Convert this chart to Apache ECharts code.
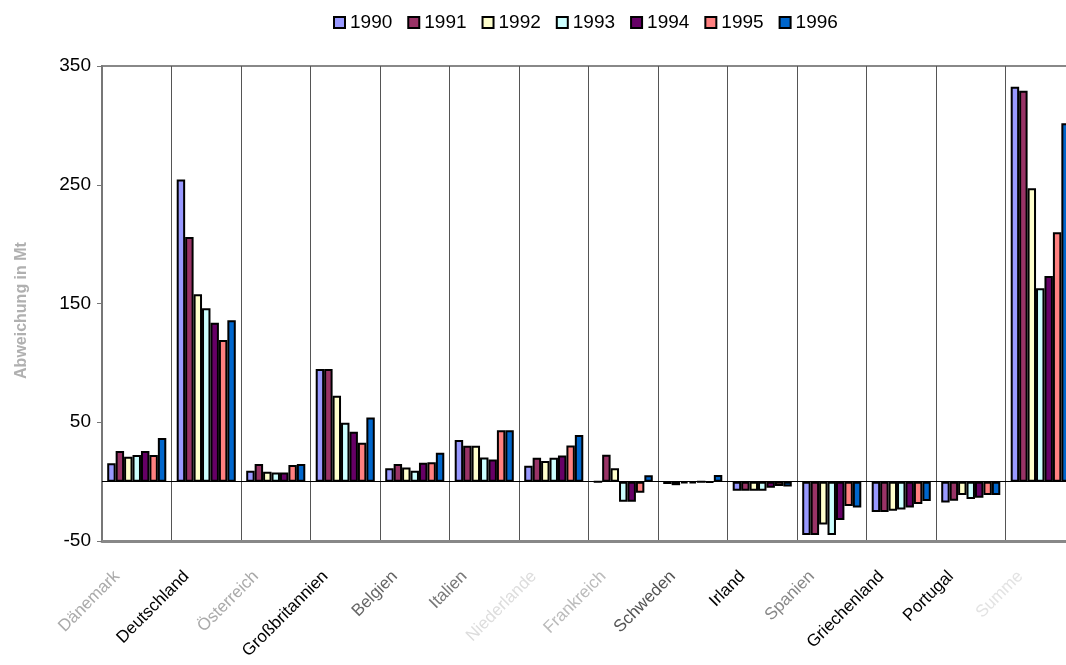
<!DOCTYPE html>
<html>
<head>
<meta charset="utf-8">
<script src="https://cdn.jsdelivr.net/npm/echarts@6/dist/echarts.min.js"></script>
<style>
html,body{margin:0;padding:0;background:#fff;overflow:hidden;width:1066px;height:665px;}
#chart{width:1080px;height:665px;}
</style>
</head>
<body>
<div id="chart"></div>
<script>
const categories = ['Dänemark','Deutschland','Österreich','Großbritannien','Belgien','Italien','Niederlande','Frankreich','Schweden','Irland','Spanien','Griechenland','Portugal','Summe'];
const years = ['1990','1991','1992','1993','1994','1995','1996'];
const v1990 = [15.4, 254.5, 9.2, 94.8, 11.2, 35.0, 13.4, 0, -2.0, -7.6, -45.0, -25.6, -17.5, 332.5];
const v1991 = [25.8, 206.0, 14.8, 94.8, 14.8, 30.3, 20.2, 22.7, -3.0, -7.6, -45.0, -25.6, -16.1, 329.2];
const v1992 = [21.0, 157.7, 8.4, 72.4, 12.0, 30.3, 17.3, 11.2, -1.5, -7.6, -36.0, -24.5, -11.3, 247.0];
const v1993 = [22.4, 146.0, 7.6, 49.6, 9.2, 20.4, 20.2, -16.9, -1.5, -7.6, -45.0, -23.4, -14.7, 162.8];
const v1994 = [25.8, 133.8, 7.6, 42.0, 16.0, 18.7, 22.1, -16.9, 0, -5.1, -32.3, -21.7, -13.5, 173.1];
const v1995 = [22.4, 119.2, 14.0, 32.8, 16.3, 43.2, 30.5, -9.3, -0.5, -3.7, -20.5, -18.9, -11.3, 209.9];
const v1996 = [36.7, 136.0, 14.8, 54.1, 24.4, 43.2, 39.2, 5.3, 5.5, -4.2, -21.7, -16.3, -11.3, 301.7];
const yTicks = [-50, 50, 150, 250, 350];

const seriesValues = [v1990, v1991, v1992, v1993, v1994, v1995, v1996];
const colors = ['#9999FF','#993366','#FFFFCC','#CCFFFF','#660066','#FF8080','#0066CC'];
const labelColors = ['#aaaaaa','#000000','#aaaaaa','#000000','#666666','#777777','#dddddd','#bbbbbb','#555555','#000000','#888888','#000000','#000000','#e3e3e3'];
const FONT = 'Liberation Sans, Arial, sans-serif';

const chart = echarts.init(document.getElementById('chart'), null, {renderer:'canvas'});
const series = years.map((y, i) => ({
  name: y,
  type: 'bar',
  data: seriesValues[i],
  barGap: '0%',
  barCategoryGap: '15%',
  itemStyle: {color: colors[i], borderColor: '#000', borderWidth: 2},
  emphasis: {disabled: true},
  animation: false,
  markLine: i === 0 ? {
    silent: true, symbol: 'none', label: {show: false},
    lineStyle: {color: '#000', width: 1, type: 'solid'},
    data: [{yAxis: 0}], animation: false
  } : undefined
}));

chart.setOption({
  animation: false,
  legend: {
    data: years,
    left: 328, top: 8,
    icon: 'rect', itemWidth: 11, itemHeight: 11, itemGap: 15,
    textStyle: {fontFamily: FONT, fontSize: 19, color: '#000'}
  },
  grid: {
    left: 102, top: 66, width: 973, height: 475,
    show: true, borderColor: '#888', borderWidth: 2, containLabel: false
  },
  xAxis: {
    type: 'category', data: categories,
    axisLine: {onZero: false, lineStyle: {color: '#888', width: 3}},
    axisTick: {show: false},
    splitLine: {show: true, lineStyle: {color: '#555', width: 1}},
    axisLabel: {
      interval: 0, rotate: 45, margin: 13,
      padding: [0, 28, 0, 0],
      fontFamily: FONT, fontSize: 17,
      color: (val, idx) => labelColors[idx]
    }
  },
  yAxis: {
    type: 'value', min: -50, max: 350, interval: 100,
    name: 'Abweichung in Mt', nameLocation: 'middle', nameGap: 72,
    nameTextStyle: {fontFamily: FONT, fontSize: 16, fontWeight: 'bold', color: '#b0b0b0', padding: [0, 14, 0, 0]},
    axisLine: {show: true, lineStyle: {color: '#777', width: 2}},
    axisTick: {show: true, length: 5, lineStyle: {color: '#777'}},
    splitLine: {show: false},
    axisLabel: {
      fontFamily: FONT, fontSize: 19, color: '#000', margin: 11,
      formatter: v => (yTicks.indexOf(v) >= 0 ? String(v) : '')
    }
  },
  series: series
});
</script>
</body>
</html>
